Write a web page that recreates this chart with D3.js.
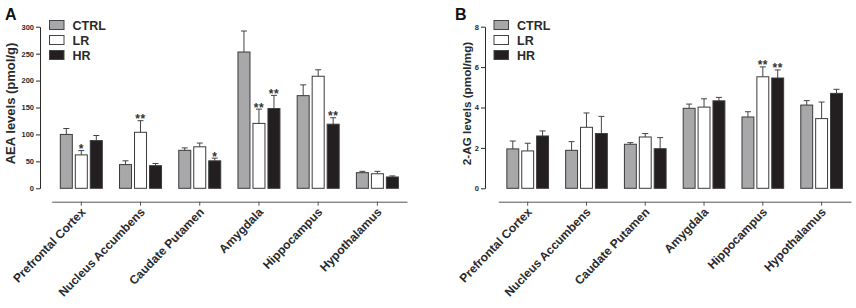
<!DOCTYPE html>
<html>
<head>
<meta charset="utf-8">
<script src="https://cdnjs.cloudflare.com/ajax/libs/d3/7.8.5/d3.min.js"></script>
<style>
  html, body { margin: 0; padding: 0; background: #fff; }
  svg { font-family: "Liberation Sans", Arial, sans-serif; }
</style>
</head>
<body>
<div id="chart"></div>
<script>
// brain regions + groups
const regions = ["Prefrontal Cortex", "Nucleus Accumbens", "Caudate Putamen", "Amygdala", "Hippocampus", "Hypothalamus"];
const groups = ["CTRL", "LR", "HR"];

// A: AEA levels (pmol/g), mean + SEM
const aeaCtrl = [100, 44, 70.5, 253, 172, 29];
const aeaCtrlSem = [11, 7, 4.5, 39, 20, 2.5];
const aeaLr = [62, 104, 77, 120.5, 208, 27];
const aeaLrSem = [8, 21.5, 7, 26.5, 12, 4.5];
const aeaHr = [88.5, 42, 51, 148, 119, 21];
const aeaHrSem = [9.5, 4, 5, 24.5, 12, 2];
const aeaLrStars = ["*", "**", "", "**", "", ""];
const aeaHrStars = ["", "", "*", "**", "**", ""];
const aeaTicks = [0, 50, 100, 150, 200, 250, 300];

// B: 2-AG levels (pmol/mg), mean + SEM
const agCtrl = [1.95, 1.88, 2.18, 3.96, 3.53, 4.12];
const agCtrlSem = [0.39, 0.43, 0.08, 0.21, 0.26, 0.22];
const agLr = [1.85, 3.02, 2.54, 4.02, 5.52, 3.45];
const agLrSem = [0.38, 0.71, 0.17, 0.41, 0.49, 0.82];
const agHr = [2.59, 2.71, 1.96, 4.33, 5.46, 4.7];
const agHrSem = [0.25, 0.85, 0.55, 0.17, 0.4, 0.2];
const agLrStars = ["", "", "", "", "**", ""];
const agHrStars = ["", "", "", "", "**", ""];
const agTicks = [0, 2, 4, 6, 8];

const fills = { CTRL: "#a8a8aa", LR: "#ffffff", HR: "#231f20" };
const ink = "#2a2a2a";

const svg = d3.select("#chart").append("svg")
  .attr("width", 856)
  .attr("height", 308);

function drawPanel(p) {
  const g = svg.append("g");

  const y = d3.scaleLinear().domain([0, p.ticks[p.ticks.length - 1]]).range([188.3, 26.7]);
  const x0 = d3.scaleBand().domain(regions).range(p.xRange).paddingInner(0.274).paddingOuter(0.137);
  const x1 = d3.scaleBand().domain(groups).range([0, x0.bandwidth()]).paddingInner(0.133);

  // panel letter
  g.append("text")
    .attr("x", p.letterX).attr("y", 20)
    .attr("font-size", 16).attr("font-weight", 700).attr("fill", "#111")
    .text(p.letter);

  // y axis
  const yAxis = g.append("g")
    .attr("transform", `translate(${p.axisX},0)`)
    .call(d3.axisLeft(y).tickValues(p.ticks).tickSize(4).tickSizeOuter(0).tickPadding(2));
  yAxis.select(".domain").attr("stroke", ink);
  yAxis.selectAll(".tick line").attr("stroke", ink);
  yAxis.selectAll(".tick text")
    .attr("font-size", 7.5).attr("font-weight", 700).attr("fill", ink)
    .attr("font-family", "Liberation Sans, Arial, sans-serif");

  g.append("text")
    .attr("transform", `translate(${p.titleX},103.5) rotate(-90)`)
    .attr("text-anchor", "middle")
    .attr("font-size", p.titleSize).attr("font-weight", 700).attr("fill", ink)
    .text(p.title);

  // x axis (offset below bars)
  const xAxis = g.append("g")
    .attr("transform", "translate(0,201.7)")
    .call(d3.axisBottom(x0).tickSize(4).tickSizeOuter(0));
  xAxis.select(".domain").attr("stroke", "#555");
  xAxis.selectAll(".tick line").attr("stroke", "#555");
  xAxis.selectAll(".tick text")
    .attr("font-size", 12).attr("font-weight", 700).attr("fill", ink)
    .attr("font-family", "Liberation Sans, Arial, sans-serif")
    .attr("text-anchor", "end")
    .attr("dy", null)
    .attr("transform", "translate(5,11) rotate(-46)")
    .attr("y", 0);

  // bars
  groups.forEach((grp, gi) => {
    const vals = p.means[gi];
    const sems = p.sems[gi];
    const stars = p.stars[gi];
    const cells = g.append("g").selectAll("g")
      .data(regions.map((r, i) => ({ r, v: vals[i], e: sems[i], s: stars[i] })))
      .join("g")
      .attr("transform", d => `translate(${x0(d.r) + x1(grp)},0)`);

    // error bars (upper only)
    cells.append("line")
      .attr("x1", x1.bandwidth() / 2).attr("x2", x1.bandwidth() / 2)
      .attr("y1", d => y(d.v)).attr("y2", d => y(d.v + d.e))
      .attr("stroke", "#444").attr("stroke-width", 1);
    cells.append("line")
      .attr("x1", x1.bandwidth() / 2 - 3).attr("x2", x1.bandwidth() / 2 + 3)
      .attr("y1", d => y(d.v + d.e)).attr("y2", d => y(d.v + d.e))
      .attr("stroke", "#444").attr("stroke-width", 1);

    cells.append("rect")
      .attr("x", 0.5)
      .attr("y", d => y(d.v))
      .attr("width", x1.bandwidth() - 1)
      .attr("height", d => y(0) - y(d.v))
      .attr("fill", fills[grp])
      .attr("stroke", "#3a3a3a").attr("stroke-width", 1);

    cells.filter(d => d.s).append("text")
      .attr("x", x1.bandwidth() / 2)
      .attr("y", d => y(d.v + d.e) + 2.5)
      .attr("text-anchor", "middle")
      .attr("font-size", 12).attr("font-weight", 700).attr("fill", "#333")
      .attr("letter-spacing", 0.5)
      .text(d => d.s);
  });

  // legend
  const legend = g.append("g").attr("transform", `translate(${p.legendX},20)`);
  groups.forEach((grp, i) => {
    legend.append("rect")
      .attr("x", 0.5).attr("y", i * 15 + 0.5)
      .attr("width", 14.5).attr("height", 9)
      .attr("fill", fills[grp]).attr("stroke", "#444").attr("stroke-width", 1);
    legend.append("text")
      .attr("x", 23.5).attr("y", i * 15 + 9.5)
      .attr("font-size", 12.5).attr("font-weight", 700).attr("fill", ink)
      .text(grp);
  });
}

drawPanel({
  letter: "A", letterX: 5,
  axisX: 40, xRange: [51.7, 407],
  ticks: aeaTicks,
  title: "AEA levels (pmol/g)", titleX: 15, titleSize: 13,
  means: [aeaCtrl, aeaLr, aeaHr],
  sems: [aeaCtrlSem, aeaLrSem, aeaHrSem],
  stars: [regions.map(() => ""), aeaLrStars, aeaHrStars],
  legendX: 49
});

drawPanel({
  letter: "B", letterX: 455,
  axisX: 485, xRange: [498.3, 851],
  ticks: agTicks,
  title: "2-AG levels (pmol/mg)", titleX: 471, titleSize: 11.7,
  means: [agCtrl, agLr, agHr],
  sems: [agCtrlSem, agLrSem, agHrSem],
  stars: [regions.map(() => ""), agLrStars, agHrStars],
  legendX: 493.5
});
</script>
</body>
</html>
